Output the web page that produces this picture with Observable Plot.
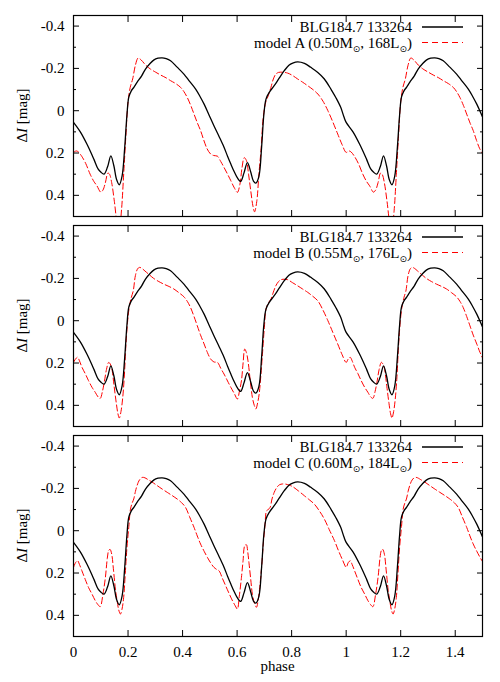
<!DOCTYPE html>
<html>
<head>
<meta charset="utf-8">
<script src="https://cdn.jsdelivr.net/npm/d3@7"></script>
<script src="https://cdn.jsdelivr.net/npm/@observablehq/plot@0.6"></script>
<style>
  html, body { margin: 0; padding: 0; background: #fff; }
  #chart { position: relative; width: 500px; height: 682px; font-family: "Liberation Serif", "Times New Roman", serif; }
  #chart svg { position: absolute; left: 0; }
</style>
</head>
<body>
<div id="chart"></div>
<script>
// ---------- data (one pulsation cycle, phase 0..1; plot shows phase 0..1.5) ----------
const obsName = "BLG184.7 133264";
const obsPhase = [0.000,0.025,0.050,0.075,0.090,0.100,0.112,0.125,0.137,0.148,0.158,0.168,0.178,0.188,0.196,0.203,0.212,0.222,0.233,0.250,0.264,0.280,0.294,0.310,0.325,0.340,0.356,0.380,0.405,0.425,0.448,0.465,0.479,0.497,0.515,0.535,0.552,0.565,0.577,0.590,0.600,0.613,0.625,0.638,0.650,0.660,0.669,0.680,0.690,0.698,0.706,0.718,0.736,0.755,0.773,0.790,0.804,0.822,0.847,0.870,0.896,0.920,0.945,0.963,0.980,0.992];
const obsMag   = [0.055,0.100,0.160,0.230,0.275,0.290,0.300,0.265,0.213,0.260,0.325,0.350,0.310,0.170,0.020,-0.065,-0.094,-0.112,-0.134,-0.165,-0.197,-0.222,-0.239,-0.248,-0.250,-0.246,-0.236,-0.206,-0.173,-0.140,-0.102,-0.065,-0.031,0.020,0.071,0.125,0.173,0.215,0.252,0.290,0.315,0.334,0.295,0.245,0.290,0.333,0.342,0.310,0.170,0.020,-0.055,-0.087,-0.118,-0.155,-0.189,-0.215,-0.225,-0.231,-0.224,-0.205,-0.181,-0.150,-0.100,-0.060,-0.016,0.030];

const modelNames  = ["A", "B", "C"];
const modelMass   = ["0.50", "0.55", "0.60"];
const modelLum    = ["168", "176", "184"];

const phaseA = [0.000,0.010,0.018,0.030,0.045,0.061,0.075,0.086,0.100,0.108,0.117,0.126,0.132,0.140,0.150,0.160,0.168,0.176,0.184,0.192,0.200,0.208,0.217,0.227,0.237,0.248,0.265,0.282,0.300,0.319,0.340,0.356,0.375,0.393,0.405,0.417,0.430,0.442,0.455,0.466,0.478,0.490,0.503,0.515,0.528,0.540,0.552,0.565,0.577,0.590,0.601,0.610,0.618,0.626,0.634,0.642,0.650,0.658,0.664,0.672,0.680,0.688,0.696,0.705,0.714,0.724,0.733,0.742,0.752,0.765,0.785,0.805,0.822,0.840,0.859,0.878,0.896,0.915,0.933,0.950,0.969,0.985];
const magA   = [0.197,0.190,0.195,0.215,0.250,0.300,0.335,0.355,0.385,0.375,0.340,0.295,0.300,0.340,0.430,0.530,0.560,0.470,0.300,0.120,-0.040,-0.110,-0.150,-0.215,-0.249,-0.240,-0.215,-0.197,-0.183,-0.169,-0.155,-0.142,-0.128,-0.110,-0.090,-0.063,-0.025,0.016,0.060,0.094,0.140,0.180,0.205,0.212,0.215,0.240,0.268,0.300,0.331,0.365,0.386,0.350,0.270,0.222,0.235,0.300,0.378,0.450,0.478,0.430,0.300,0.180,0.030,-0.040,-0.070,-0.110,-0.150,-0.173,-0.181,-0.182,-0.178,-0.165,-0.150,-0.135,-0.118,-0.100,-0.079,-0.045,0.000,0.050,0.110,0.160];

const phaseB = [0.000,0.008,0.015,0.022,0.031,0.043,0.055,0.068,0.080,0.090,0.098,0.106,0.113,0.121,0.129,0.135,0.141,0.149,0.157,0.163,0.168,0.174,0.180,0.186,0.192,0.198,0.204,0.212,0.219,0.227,0.235,0.242,0.250,0.262,0.280,0.294,0.313,0.331,0.350,0.368,0.387,0.405,0.418,0.429,0.442,0.454,0.466,0.479,0.491,0.503,0.515,0.528,0.540,0.552,0.565,0.577,0.590,0.601,0.609,0.616,0.622,0.628,0.634,0.640,0.648,0.656,0.663,0.669,0.675,0.681,0.687,0.693,0.700,0.706,0.715,0.724,0.733,0.742,0.752,0.761,0.773,0.785,0.803,0.822,0.840,0.859,0.878,0.896,0.915,0.933,0.951,0.969,0.985];
const magB   = [0.197,0.180,0.173,0.190,0.220,0.250,0.283,0.315,0.339,0.360,0.367,0.335,0.290,0.230,0.197,0.205,0.230,0.310,0.390,0.440,0.460,0.430,0.370,0.270,0.120,0.010,-0.060,-0.110,-0.140,-0.213,-0.245,-0.252,-0.248,-0.235,-0.215,-0.200,-0.185,-0.173,-0.162,-0.150,-0.132,-0.113,-0.090,-0.063,-0.020,0.024,0.068,0.110,0.150,0.181,0.195,0.197,0.225,0.252,0.285,0.315,0.345,0.370,0.330,0.283,0.200,0.134,0.150,0.190,0.280,0.362,0.400,0.417,0.390,0.346,0.260,0.157,0.030,-0.055,-0.085,-0.102,-0.135,-0.165,-0.185,-0.194,-0.196,-0.194,-0.180,-0.165,-0.150,-0.134,-0.115,-0.094,-0.050,0.000,0.055,0.110,0.160];

const phaseC = [0.000,0.008,0.015,0.022,0.031,0.043,0.055,0.068,0.080,0.090,0.098,0.108,0.117,0.124,0.129,0.134,0.140,0.147,0.154,0.160,0.166,0.172,0.178,0.184,0.190,0.196,0.203,0.209,0.215,0.221,0.227,0.233,0.242,0.252,0.262,0.270,0.288,0.307,0.325,0.344,0.362,0.380,0.396,0.411,0.426,0.442,0.454,0.466,0.479,0.491,0.503,0.515,0.525,0.534,0.546,0.558,0.570,0.583,0.592,0.601,0.608,0.616,0.622,0.628,0.634,0.639,0.644,0.650,0.656,0.663,0.671,0.677,0.683,0.690,0.696,0.702,0.708,0.714,0.721,0.728,0.736,0.745,0.755,0.767,0.779,0.792,0.804,0.825,0.847,0.865,0.883,0.902,0.920,0.938,0.957,0.972,0.988];
const magC   = [0.173,0.150,0.142,0.160,0.190,0.230,0.268,0.300,0.331,0.350,0.359,0.300,0.220,0.130,0.094,0.088,0.110,0.190,0.280,0.331,0.375,0.394,0.370,0.315,0.200,0.079,-0.020,-0.102,-0.130,-0.150,-0.185,-0.213,-0.240,-0.252,-0.250,-0.244,-0.230,-0.213,-0.197,-0.181,-0.166,-0.150,-0.133,-0.110,-0.065,-0.016,0.025,0.063,0.097,0.126,0.152,0.173,0.183,0.190,0.225,0.260,0.295,0.331,0.352,0.370,0.310,0.220,0.140,0.071,0.066,0.100,0.157,0.230,0.300,0.340,0.362,0.330,0.268,0.170,0.063,-0.020,-0.094,-0.100,-0.110,-0.150,-0.181,-0.203,-0.217,-0.221,-0.220,-0.215,-0.208,-0.188,-0.165,-0.146,-0.126,-0.093,-0.055,-0.005,0.047,0.095,0.142];

const modelPhases = [phaseA, phaseB, phaseC];
const modelMags   = [magA, magB, magC];

const xTicks      = [0, 0.2, 0.4, 0.6, 0.8, 1.0, 1.2, 1.4];
const xTickLabels = ["0", "0.2", "0.4", "0.6", "0.8", "1", "1.2", "1.4"];
const yMajor      = [-0.4, -0.2, 0, 0.2, 0.4];
const yTickLabels = ["-0.4", "-0.2", "0", "0.2", "0.4"];
const yMinor      = [-0.3, -0.1, 0.1, 0.3];
const xLabel = "phase";

// ---------- helpers ----------
function tile(ph, mg) {
  const rows = [];
  for (const c of [0, 1]) ph.forEach((p, i) => { if (p + c <= 1.56) rows.push({phase: p + c, mag: mg[i]}); });
  return rows;
}

const font = "Liberation Serif, Times New Roman, serif";
const chart = document.getElementById("chart");
const panels = [
  {top: 0,   height: 220, mt: 15, mb: 4},
  {top: 220, height: 210, mt: 5,  mb: 4},
  {top: 430, height: 252, mt: 5,  mb: 46}
];
const ML = 73, MR = 18;

panels.forEach((pn, k) => {
  const last = k === panels.length - 1;
  const svg = Plot.plot({
    width: 500, height: pn.height,
    marginLeft: ML, marginRight: MR, marginTop: pn.mt, marginBottom: pn.mb,
    style: {fontFamily: font, fontSize: "15px", color: "black", background: "white", overflow: "visible"},
    x: {domain: [0, 1.5]},
    y: {domain: [-0.45, 0.5], reverse: true},
    marks: [
      Plot.line(tile(modelPhases[k], modelMags[k]), {x: "phase", y: "mag", stroke: "#ff0000", strokeWidth: 1, strokeDasharray: "6,3", curve: "catmull-rom", clip: true}),
      Plot.line(tile(obsPhase, obsMag), {x: "phase", y: "mag", stroke: "black", strokeWidth: 1.3, curve: "catmull-rom", clip: true}),
      Plot.axisY({anchor: "left",  ticks: yMajor, tickSize: -6, fill: "none", label: null}),
      Plot.axisY({anchor: "left",  ticks: yMinor, tickSize: -3, fill: "none", label: null}),
      Plot.axisY({anchor: "right", ticks: yMajor, tickSize: -6, fill: "none", label: null}),
      Plot.axisY({anchor: "right", ticks: yMinor, tickSize: -3, fill: "none", label: null}),
      Plot.axisY({anchor: "left", ticks: yMajor, tickSize: 0, tickPadding: 9, tickFormat: d => yTickLabels[yMajor.indexOf(d)], label: null}),
      Plot.axisX({anchor: "top",    ticks: xTicks, tickSize: -6, fill: "none", label: null}),
      Plot.axisX({anchor: "bottom", ticks: xTicks, tickSize: -6, fill: "none", label: null}),
      last ? Plot.axisX({anchor: "bottom", ticks: xTicks, tickSize: 0, tickPadding: 10, tickFormat: d => xTickLabels[xTicks.indexOf(d)], label: null}) : null,
      Plot.frame({stroke: "black", strokeWidth: 1.2})
    ]
  });
  svg.style.top = pn.top + "px";
  chart.appendChild(svg);

  const s = d3.select(svg);
  const top = pn.mt, bottom = pn.height - pn.mb;
  const g = s.append("g").attr("font-family", font).attr("font-size", 15).attr("fill", "black");
  // legend row 1
  g.append("text").attr("x", 412).attr("y", top + 17).attr("text-anchor", "end").text(obsName);
  g.append("line").attr("x1", 422).attr("x2", 463).attr("y1", top + 12).attr("y2", top + 12)
    .attr("stroke", "black").attr("stroke-width", 1.3);
  // legend row 2 with sun subscripts
  const t = g.append("text").attr("x", 412).attr("y", top + 32.5).attr("text-anchor", "end");
  t.append("tspan").text(`model ${modelNames[k]} (${modelMass[k]}M`);
  t.append("tspan").attr("font-size", 9).attr("dy", 4).attr("font-family", "DejaVu Sans").text("\u2299");
  t.append("tspan").attr("dy", -4).text(`, ${modelLum[k]}L`);
  t.append("tspan").attr("font-size", 9).attr("dy", 4).attr("font-family", "DejaVu Sans").text("\u2299");
  t.append("tspan").attr("dy", -4).text(")");
  g.append("line").attr("x1", 422).attr("x2", 463).attr("y1", top + 27.5).attr("y2", top + 27.5)
    .attr("stroke", "#ff0000").attr("stroke-width", 1).attr("stroke-dasharray", "6,4");
  // y-axis label
  const cy = (top + bottom) / 2;
  const yl = g.append("text").attr("transform", `translate(27,${cy}) rotate(-90)`).attr("text-anchor", "middle");
  yl.append("tspan").text("\u0394");
  yl.append("tspan").attr("font-style", "italic").text("I");
  yl.append("tspan").text(" [mag]");
  if (last) {
    g.append("text").attr("x", (ML + 500 - MR) / 2).attr("y", bottom + 35).attr("text-anchor", "middle").text(xLabel);
  }
});
</script>
</body>
</html>
